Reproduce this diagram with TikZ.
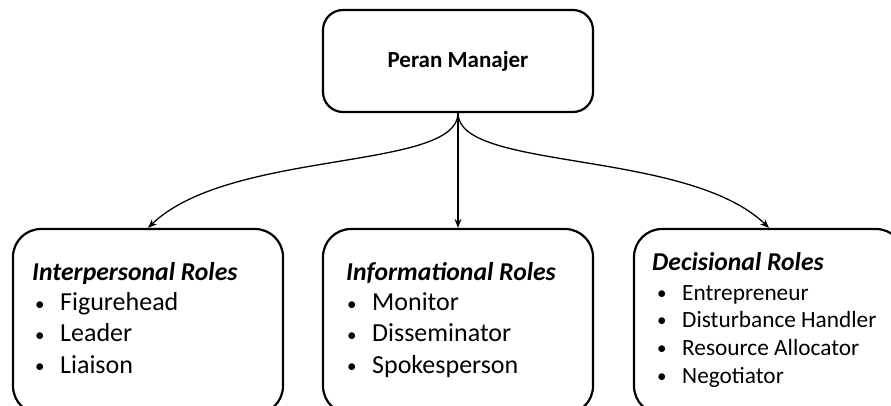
\documentclass[tikz,border=0pt]{standalone}
\usepackage{fontspec}
\setmainfont{Carlito}
\usetikzlibrary{calc,arrows.meta}
\newcommand{\bul}{\makebox[25pt][l]{\raisebox{0.5pt}{\fontsize{19}{19}\selectfont•}}}
\begin{document}
\begin{tikzpicture}[x=1pt,y=1pt,
  box/.style={draw, line width=2.2pt, rounded corners=28pt, minimum width=270pt, minimum height=185pt, inner sep=0pt},
  conn/.style={line width=1.3pt, -{Stealth[length=9pt,width=7pt]}},
  titletxt/.style={anchor=base, inner sep=0pt, font=\fontsize{23}{27}\bfseries\selectfont},
  headA/.style={anchor=base west, inner sep=0pt, font=\fontsize{25.7}{30}\bfseries\itshape\selectfont},
  itemA/.style={anchor=base west, inner sep=0pt, font=\fontsize{26}{30}\selectfont},
  headB/.style={anchor=base west, inner sep=0pt, font=\fontsize{25.7}{30}\bfseries\itshape\selectfont},
  itemB/.style={anchor=base west, inner sep=0pt, font=\fontsize{23.3}{28}\selectfont}]
\useasboundingbox (0,0) rectangle (891,405);
\fill[white] (0,0) rectangle (891,405);
% boxes
\node[box, minimum height=102pt, rounded corners=20pt] (top) at (458,344) {};
\node[titletxt] (title) at (458,337) {Peran Manajer};
\node[box] (left) at (148,83.5) {};
\node[box] (mid) at (458,83.5) {};
\node[box] (right) at (769,83.5) {};
% connectors
\draw[conn] (top.south) .. controls ($(top.south)+(0,-58)$) and ($(left.north)+(82,79)$) .. (left.north);
\draw[conn] (top.south) -- (mid.north);
\draw[conn] (top.south) .. controls ($(top.south)+(0,-58)$) and ($(right.north)+(-82,79)$) .. (right.north);
% left box text
\node[headA] (lh) at (32,125) {Interpersonal Roles};
\node[itemA] (l1) at (35,94.3) {\bul Figurehead};
\node[itemA] (l2) at (35,63.3) {\bul Leader};
\node[itemA] (l3) at (35,32) {\bul Liaison};
% middle box text
\node[headA] (mh) at (346,125) {Informational Roles};
\node[itemA] (m1) at (347,94.3) {\bul Monitor};
\node[itemA] (m2) at (347,63.3) {\bul Disseminator};
\node[itemA] (m3) at (347,32) {\bul Spokesperson};
% right box text
\node[headB] (rh) at (652,135) {Decisional Roles};
\node[itemB] (r1) at (657,105) {\bul Entrepreneur};
\node[itemB] (r2) at (657,78) {\bul Disturbance Handler};
\node[itemB] (r3) at (657,50) {\bul Resource Allocator};
\node[itemB] (r4) at (657,22) {\bul Negotiator};
\end{tikzpicture}
\end{document}
